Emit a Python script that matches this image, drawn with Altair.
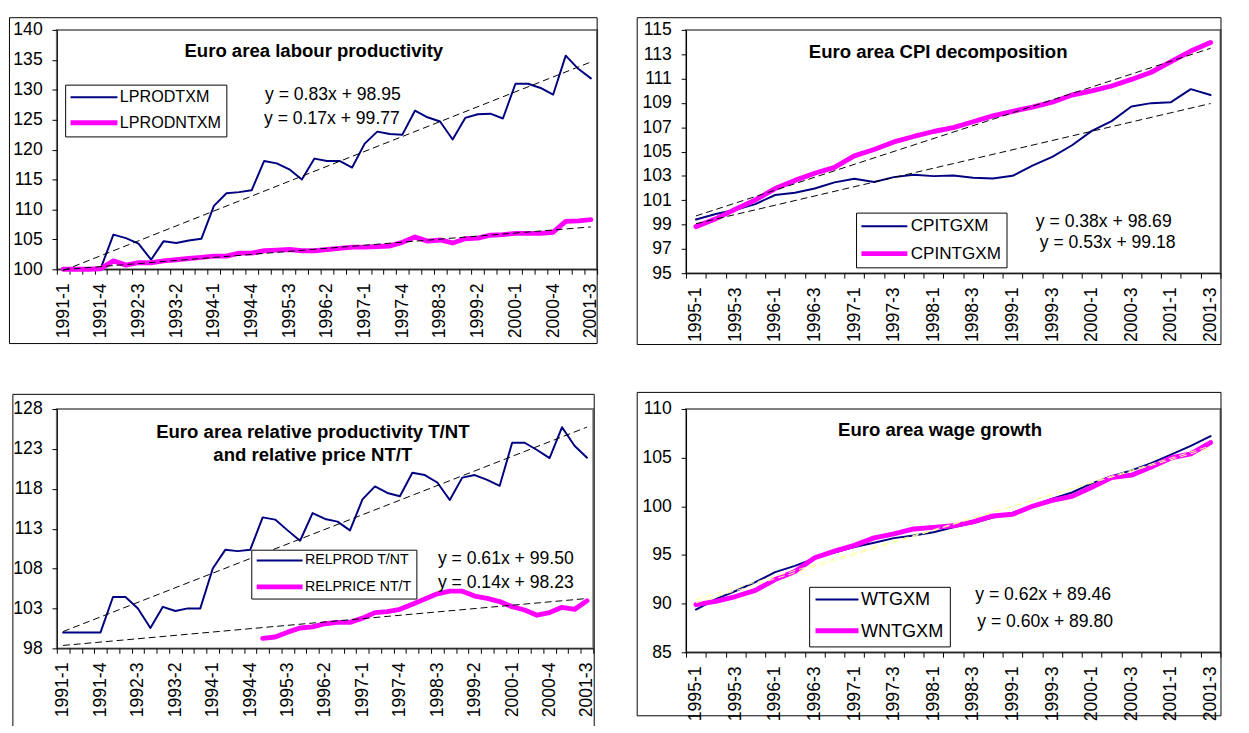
import json
import altair as alt
import pandas as pd

FONT = "Liberation Sans"
NAVY = "#000080"
MAGENTA = "#FF00FF"

# ---------------- categories ----------------
QUARTERS_A = [f"{y}-{q}" for y in range(1991, 2002) for q in (1, 2, 3, 4)][:43]   # 1991-1 .. 2001-3
QUARTERS_B = [f"{y}-{q}" for y in range(1995, 2002) for q in (1, 2, 3, 4)][:27]   # 1995-1 .. 2001-3

# ---------------- panel 1: labour productivity ----------------
LPRODTXM = [100.0, 100.0, 100.0, 100.2, 105.8, 105.2, 104.3, 101.6, 104.7, 104.4, 104.8, 105.1,
            110.6, 112.7, 112.9, 113.2, 118.1, 117.7, 116.7, 115.0, 118.5, 118.1, 118.1, 117.0,
            121.0, 123.0, 122.6, 122.5, 126.5, 125.4, 124.7, 121.7, 125.3, 125.9, 126.0, 125.2,
            131.0, 131.0, 130.3, 129.2, 135.7, 133.5, 131.9]
LPRODNTXM = [100.0, 100.0, 100.0, 100.1, 101.4, 100.7, 101.1, 101.1, 101.4, 101.6, 101.8, 102.0,
             102.2, 102.2, 102.7, 102.7, 103.1, 103.2, 103.3, 103.1, 103.1, 103.3, 103.5, 103.7,
             103.7, 103.8, 103.9, 104.5, 105.4, 104.7, 104.9, 104.4, 105.1, 105.2, 105.7, 105.8,
             106.0, 106.0, 106.0, 106.2, 108.0, 108.1, 108.3]
TREND_P1 = [(0.83, 98.95), (0.17, 99.77)]
EQ_P1 = ["y = 0.83x + 98.95", "y = 0.17x + 99.77"]

# ---------------- panel 2: CPI decomposition ----------------
CPITGXM = [99.42, 99.87, 100.22, 100.68, 101.43, 101.61, 101.96, 102.47, 102.76, 102.50, 102.90,
           103.09, 102.98, 103.03, 102.84, 102.79, 103.01, 103.84, 104.56, 105.52, 106.70, 107.50,
           108.71, 108.98, 109.06, 110.13, 109.65]
CPINTGXM = [98.83, 99.47, 100.27, 101.02, 101.96, 102.63, 103.22, 103.70, 104.64, 105.17, 105.79,
            106.24, 106.65, 106.97, 107.45, 107.93, 108.31, 108.65, 109.06, 109.65, 109.99, 110.39,
            110.93, 111.52, 112.40, 113.26, 113.96]
TREND_P2 = [(0.38, 98.69), (0.53, 99.18)]
EQ_P2 = ["y = 0.38x + 98.69", "y = 0.53x + 99.18"]

# ---------------- panel 3: relative productivity / price ----------------
RELPROD = [100.0, 100.0, 100.0, 100.0, 104.44, 104.44, 103.01, 100.56, 103.21, 102.68, 103.01, 103.01,
           108.02, 110.35, 110.19, 110.35, 114.42, 114.14, 112.79, 111.49, 114.95, 114.22, 113.89,
           112.79, 116.67, 118.30, 117.48, 117.07, 120.01, 119.72, 118.79, 116.59, 119.40, 119.72,
           119.11, 118.38, 123.77, 123.77, 122.86, 121.85, 125.72, 123.40, 121.90]
RELPRICE = [None] * 16 + [99.26, 99.42, 100.03, 100.56, 100.69, 101.09, 101.26, 101.26, 101.79,
                          102.48, 102.60, 102.89, 103.54, 104.19, 104.84, 105.17, 105.17, 104.56,
                          104.27, 103.87, 103.22, 102.81, 102.16, 102.49, 103.14, 102.89, 103.96]
TREND_P3 = [(0.61, 99.50), (0.14, 98.23)]
EQ_P3 = ["y = 0.61x + 99.50", "y = 0.14x + 98.23"]

# ---------------- panel 4: wage growth ----------------
WTGXM = [89.39, 90.46, 91.30, 92.20, 93.24, 93.88, 94.65, 95.25, 95.82, 96.26, 96.73, 97.00, 97.33,
         97.84, 98.27, 98.84, 99.34, 100.08, 100.78, 101.42, 102.36, 103.10, 103.70, 104.44, 105.31,
         106.21, 107.22]
WNTGXM = [89.89, 90.23, 90.73, 91.37, 92.47, 93.31, 94.72, 95.39, 95.99, 96.76, 97.17, 97.67, 97.84,
          98.00, 98.40, 99.01, 99.18, 100.01, 100.62, 101.02, 101.96, 102.96, 103.20, 104.03, 104.97,
          105.38, 106.55]
TREND_P4 = [(0.62, 89.46), (0.60, 89.80)]
EQ_P4 = ["y = 0.62x + 89.46", "y = 0.60x + 89.80"]


def text_layer(txt, x, y, size, bold=False, align="left"):
    return alt.Chart(pd.DataFrame({"t": [txt]})).mark_text(
        font=FONT, fontSize=size, fontWeight="bold" if bold else "normal",
        align=align, baseline="middle", color="black"
    ).encode(x=alt.value(x), y=alt.value(y), text="t:N")


def make_panel(cats, step, names, values, trends, trend_color, titles, eqs, eq_pos,
               y_domain, y_ticks, width, height, frame, lg, x_font, y_font):
    n = len(cats)
    band = width / n
    rows = []
    for name, vals in zip(names, values):
        for k, v in enumerate(vals):
            if v is not None:
                rows.append({"k": k, "series": name, "value": v})
    df = pd.DataFrame(rows)
    trows = []
    for name, (slope, icpt) in zip(names, trends):
        for k in (0, n - 1):
            trows.append({"k": k, "series": name, "slope": slope, "intercept": icpt})
    tdf = pd.DataFrame(trows)

    cats_js = json.dumps(cats).replace('"', "'")
    label_expr = (f"(round(datum.value + 0.5) % {step} == 0 && round(datum.value + 0.5) < {n})"
                  f" ? {cats_js}[round(datum.value + 0.5)] : ''")
    x_axis = alt.Axis(values=[k - 0.5 for k in range(n + 1)], labelExpr=label_expr, labelAngle=270,
                      labelOffset=band / 2, labelFlush=False, labelOverlap=False,
                      labelFontSize=x_font, labelPadding=9, tickSize=5, title=None, grid=False)
    x_enc = alt.X("k:Q", scale=alt.Scale(domain=[-0.5, n - 0.5], nice=False, zero=False), axis=x_axis)
    y_axis = alt.Axis(values=y_ticks, labelFontSize=y_font, labelPadding=10, tickSize=5,
                      title=None, grid=False)
    y_enc = alt.Y("value:Q", scale=alt.Scale(domain=y_domain, nice=False, zero=False), axis=y_axis)

    fx1, fy1, fx2, fy2 = frame
    frame_layer = alt.Chart(pd.DataFrame({"z": [0]})).mark_rect(
        fill="white", fillOpacity=0, stroke="black", strokeWidth=1
    ).encode(x=alt.value(fx1), x2=alt.value(fx2), y=alt.value(fy1), y2=alt.value(fy2))

    legend = alt.Legend(
        title=None, orient="none", legendX=lg["x"], legendY=lg["y"], direction="vertical",
        symbolType="stroke", symbolSize=lg["sym"] ** 2, clipHeight=lg["clip"],
        rowPadding=lg["rowpad"], padding=lg["pad"], labelFontSize=lg["font"], labelFont=FONT,
        labelColor="black", labelOffset=lg["loff"], symbolOffset=-2,
        strokeColor="black", fillColor="white", labelLimit=400,
    )
    lines = alt.Chart(df).mark_line(strokeJoin="round", strokeCap="round").encode(
        x=x_enc, y=y_enc,
        color=alt.Color("series:N", scale=alt.Scale(domain=names, range=[NAVY, MAGENTA]), legend=legend),
        strokeWidth=alt.StrokeWidth("series:N",
                                    scale=alt.Scale(type="point", domain=names, range=[2, 5], padding=0),
                                    legend=legend),
    )
    trend = alt.Chart(tdf).transform_calculate(
        value="datum.slope * (datum.k + 1) + datum.intercept"
    ).mark_line(color=trend_color, strokeWidth=1, strokeDash=[7, 4]).encode(
        x=x_enc, y=y_enc, detail="series:N"
    )
    texts = [text_layer(t, x, y, 19, bold=True, align="center") for (t, x, y) in titles]
    texts += [text_layer(t, x, y, 18) for t, (x, y) in zip(eqs, eq_pos)]
    return alt.layer(frame_layer, lines, trend, *texts).properties(width=width, height=height)


p1 = make_panel(QUARTERS_A, 3, ["LPRODTXM", "LPRODNTXM"], [LPRODTXM, LPRODNTXM], TREND_P1, "black",
                [("Euro area labour productivity", 263, 22)], EQ_P1, [(213, 67), (212, 91)],
                [100, 140], list(range(100, 141, 5)), 553, 245, (-48.5, -12.5, 553, 321),
                dict(x=8.5, y=56, sym=48, clip=16, rowpad=9, pad=5, font=16.5, loff=0), 18, 18)

p2 = make_panel(QUARTERS_B, 2, ["CPITGXM", "CPINTGXM"], [CPITGXM, CPINTGXM], TREND_P2, "black",
                [("Euro area CPI decomposition", 258, 23)], EQ_P2, [(358, 197), (362, 218)],
                [95, 115], list(range(95, 116, 2)), 547, 249, (-50, -12.5, 547.5, 322),
                dict(x=174, y=187, sym=47, clip=18, rowpad=10, pad=5, font=17.5, loff=1), 18, 18)

p3 = make_panel(QUARTERS_A, 3, ["RELPROD T/NT", "RELPRICE NT/T"], [RELPROD, RELPRICE], TREND_P3, "black",
                [("Euro area relative productivity T/NT", 262, 24), ("and relative price NT/T", 262, 47)],
                EQ_P3, [(390, 154), (390, 178)],
                [98, 128], list(range(98, 129, 5)), 549, 245, (-45, -15, 550, 336),
                dict(x=199, y=144, sym=47, clip=12, rowpad=12, pad=5, font=14.5, loff=0), 18, 18)

p4 = make_panel(QUARTERS_B, 2, ["WTGXM", "WNTGXM"], [WTGXM, WNTGXM], TREND_P4, "#FFFF99",
                [("Euro area wage growth", 260, 22)], EQ_P4, [(296, 190), (298, 218)],
                [85, 110], list(range(85, 111, 5)), 547, 249, (-50, -17, 547.5, 314),
                dict(x=126, y=182, sym=44, clip=14, rowpad=13, pad=6, font=18.5, loff=0), 18, 18)

chart = alt.concat(p1, p2, p3, p4, columns=2, spacing={"row": 139, "column": 91},
                   bounds="flush", align="each")
chart = chart.resolve_scale(
    x="independent", y="independent", color="independent", strokeWidth="independent"
).resolve_legend(color="independent", strokeWidth="independent").resolve_axis(
    x="independent", y="independent")
chart = chart.properties(
    padding={"left": 0, "top": 0, "right": 0, "bottom": -22}, background="white"
).configure_view(stroke="#808080", strokeWidth=2).configure_axis(
    labelFont=FONT, labelColor="black", domainColor="black", tickColor="black",
    domainWidth=1, tickWidth=1
)

chart.save("out.html", embed_options={"renderer": "svg", "actions": False})
